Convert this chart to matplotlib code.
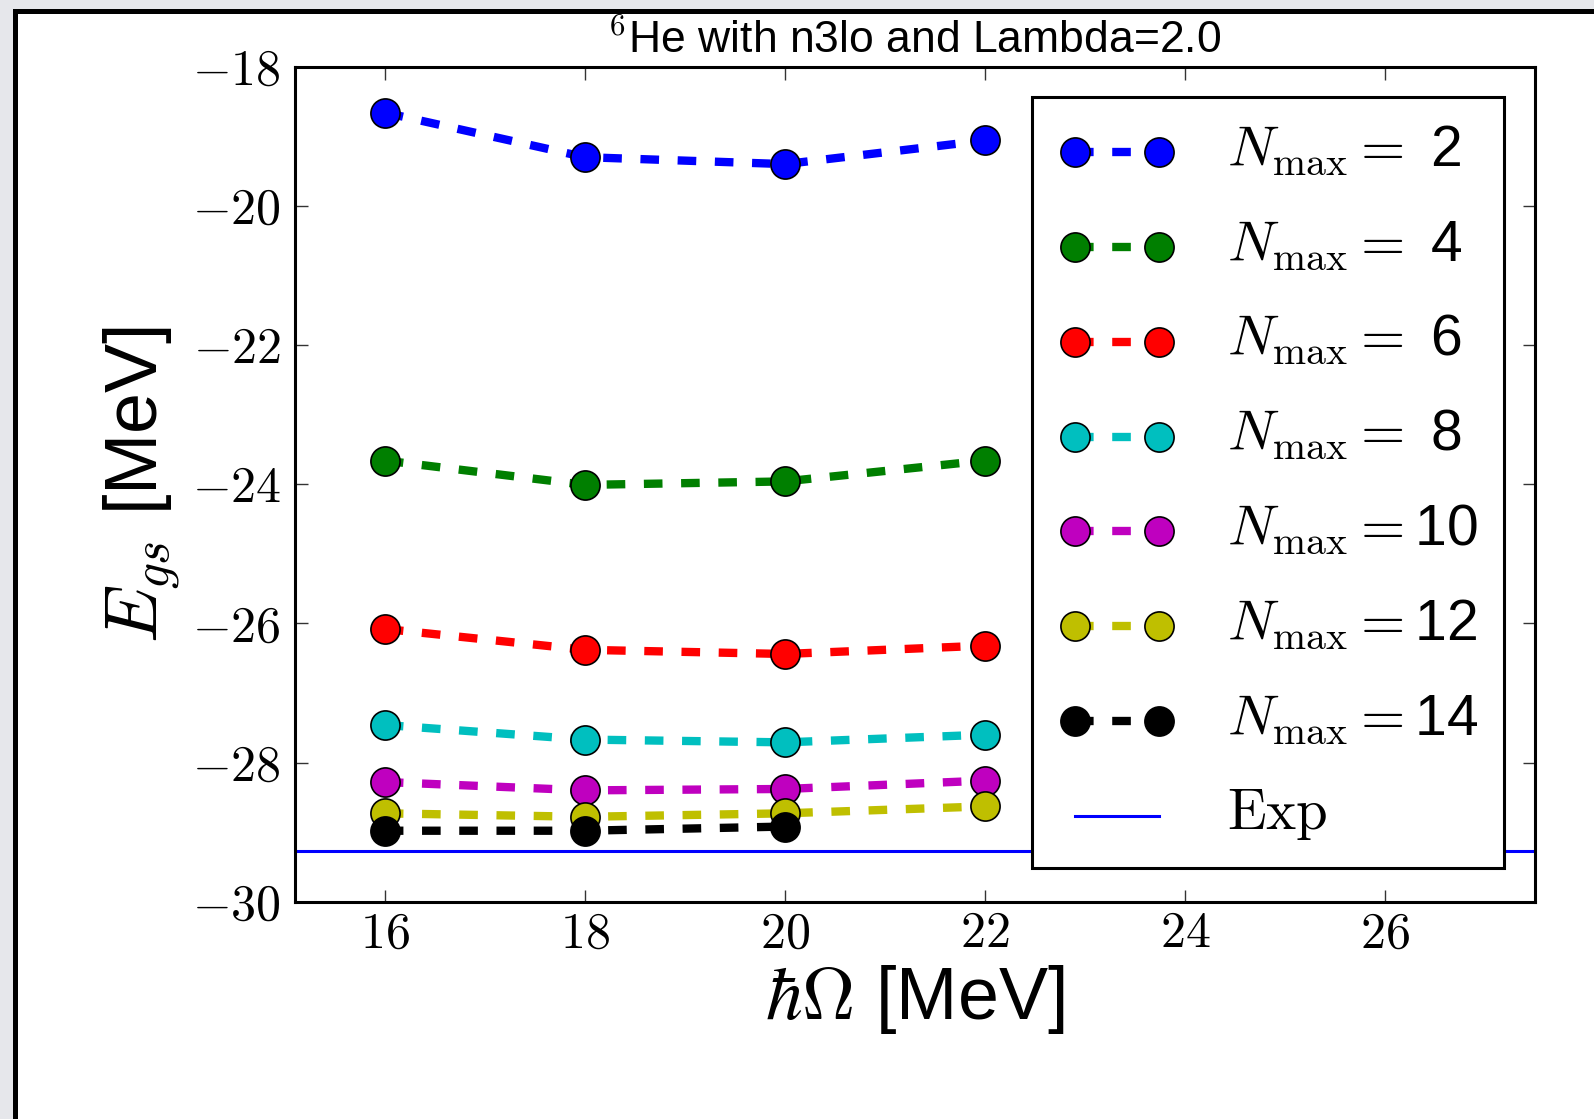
import matplotlib
matplotlib.use("Agg")
import matplotlib.pyplot as plt
from matplotlib.patches import Rectangle
from matplotlib.lines import Line2D
from matplotlib.legend_handler import HandlerLine2D
from matplotlib.ticker import FuncFormatter, MultipleLocator

plt.rcParams['font.family'] = ['Liberation Sans', 'DejaVu Sans']
plt.rcParams['mathtext.fontset'] = 'cm'
plt.rcParams['lines.scale_dashes'] = False

# oscillator frequencies (MeV)
hw = [16, 18, 20, 22]

# ground-state energies (MeV) per model-space truncation
nmax_values = [2, 4, 6, 8, 10, 12, 14]
e_nmax2 = [-18.66, -19.30, -19.40, -19.06]
e_nmax4 = [-23.66, -24.01, -23.96, -23.66]
e_nmax6 = [-26.08, -26.38, -26.44, -26.32]
e_nmax8 = [-27.46, -27.67, -27.71, -27.60]
e_nmax10 = [-28.28, -28.40, -28.38, -28.26]
e_nmax12 = [-28.73, -28.78, -28.73, -28.63]
e_nmax14 = [-28.98, -28.98, -28.92]
energies = [e_nmax2, e_nmax4, e_nmax6, e_nmax8, e_nmax10, e_nmax12, e_nmax14]

# experimental ground-state energy of 6He
e_exp = -29.27

colors = ['#0000ff', '#007f00', '#ff0000', '#00bfbf', '#bf00bf', '#bfbf00', '#000000']


class LoweredLineHandler(HandlerLine2D):
    """Legend handler that draws the sample line a little below the row centre."""

    def __init__(self, shift, **kwargs):
        super().__init__(**kwargs)
        self.shift = shift

    def create_artists(self, legend, orig_handle, xdescent, ydescent,
                       width, height, fontsize, trans):
        return super().create_artists(legend, orig_handle, xdescent,
                                      ydescent + 2 * self.shift, width,
                                      height, fontsize, trans)


W, H = 1594, 1119
fig = plt.figure(figsize=(W / 100, H / 100), dpi=100, facecolor='#e6e7eb')

# white page with dark border on the left and top
fig.patches.append(Rectangle((13 / W, 0), 1 - 13 / W, 1 - 9 / H,
                             transform=fig.transFigure, facecolor='black',
                             edgecolor='none', zorder=-2))
fig.patches.append(Rectangle((18 / W, 0), 1 - 18 / W, 1 - 14 / H,
                             transform=fig.transFigure, facecolor='white',
                             edgecolor='none', zorder=-1))

ax = fig.add_axes([294.8 / W, 1 - 901.7 / H, (1535 - 294.8) / W, (901.7 - 66.7) / H])
ax.set_facecolor('white')

handles = []
for n, e, c in zip(nmax_values, energies, colors):
    line, = ax.plot(hw[:len(e)], e, color=c, lw=6, dashes=(13.4, 13.4),
                    marker='o', ms=21, mfc=c, mec='black', mew=1.2,
                    label=r'$N_{\rm max}=$' + '%2d' % n)
    handles.append(line)

exp_line = ax.axhline(e_exp, color='#0000ff', lw=2.2, label=r'$\mathrm{Exp}$')
handles.append(exp_line)

ax.set_xlim(15.1, 27.5)
ax.set_ylim(-30, -18)
ax.xaxis.set_major_locator(MultipleLocator(2))
ax.yaxis.set_major_locator(MultipleLocator(2))
fmt = FuncFormatter(lambda v, p: r'$%d$' % round(v))
ax.xaxis.set_major_formatter(fmt)
ax.yaxis.set_major_formatter(fmt)
ax.tick_params(direction='in', length=9, width=1.0, labelsize=36,
               top=True, right=True, color='#333333')
ax.tick_params(axis='y', pad=10)
ax.tick_params(axis='x', pad=7)
for s in ax.spines.values():
    s.set_linewidth(2.2)

ax.set_xlabel(r'$\hbar\Omega$ [MeV]', fontsize=53, labelpad=4)
ax.set_ylabel(r'$E_{gs}$ [MeV]', fontsize=53, labelpad=6)
ax.set_title(r'$^6$He with n3lo and Lambda=2.0', fontsize=32, pad=10)

leg = ax.legend(handles=handles, loc='upper right',
                bbox_to_anchor=(0.9754, 0.9642), borderaxespad=0,
                numpoints=2, fontsize=41, handlelength=2.08,
                handletextpad=0.88, labelspacing=0.717, borderpad=0.465,
                fancybox=False, framealpha=1,
                handler_map={Line2D: LoweredLineHandler(5)})
leg.get_frame().set_edgecolor('black')
leg.get_frame().set_linewidth(2.2)

fig.savefig('out.png', dpi=100, facecolor=fig.get_facecolor())
